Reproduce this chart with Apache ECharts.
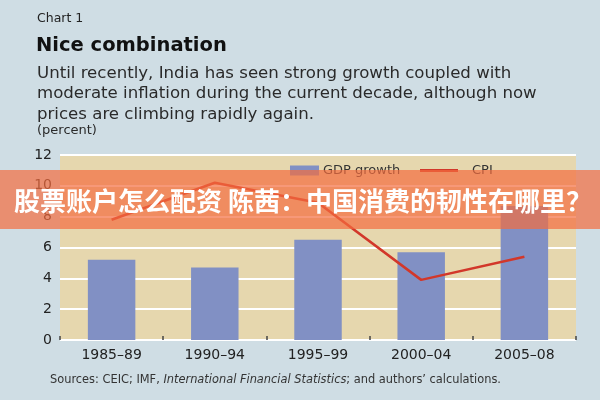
<!DOCTYPE html>
<html>
<head>
<meta charset="utf-8">
<script src="https://cdn.jsdelivr.net/npm/echarts@6/dist/echarts.min.js"></script>
<style>
html,body{margin:0;padding:0;background:#cfdde4;}
#c{width:600px;height:400px;}
</style>
</head>
<body>
<div id="c"></div>
<script>
const categories = ['1985–89', '1990–94', '1995–99', '2000–04', '2005–08'];
const gdpGrowth = [5.2, 4.7, 6.5, 5.7, 8.7];
const cpi = [7.8, 10.2, 8.9, 3.9, 5.4];
const yTicks = { min: 0, max: 12, interval: 2 };

const chart = echarts.init(document.getElementById('c'));
const F = '"DejaVu Sans", "Liberation Sans", sans-serif';
chart.setOption({
  backgroundColor: '#cfdde4',
  animation: false,
  grid: { left: 60, right: 24, top: 155, bottom: 60, show: true, backgroundColor: '#e6d7ae', borderWidth: 0 },
  legend: [
    { data: ['GDP growth'], left: 290, top: 164, padding: 0, itemWidth: 29, itemHeight: 10, itemGap: 5,
      textStyle: { color: '#333', fontSize: 13, fontFamily: F, padding: [0, 0, 0, -1] }, icon: 'rect' },
    { data: ['CPI'], left: 420, top: 164, padding: 0, itemWidth: 38, itemHeight: 3, icon: 'rect',
      textStyle: { color: '#333', fontSize: 13, fontFamily: F, padding: [0, 0, 0, 9] } }
  ],
  xAxis: {
    type: 'category', data: categories,
    axisLine: { show: false },
    axisTick: { show: true, inside: true, length: 4, lineStyle: { color: '#444', width: 1.5 } },
    axisLabel: { color: '#222', fontSize: 14, fontFamily: F, margin: 8 }
  },
  yAxis: {
    type: 'value', min: yTicks.min, max: yTicks.max, interval: yTicks.interval,
    axisLine: { show: false }, axisTick: { show: false },
    axisLabel: { color: '#222', fontSize: 14, fontFamily: F, margin: 8 },
    splitLine: { lineStyle: { color: '#ffffff', width: 2 } }
  },
  series: [
    { name: 'GDP growth', type: 'bar', data: gdpGrowth, barWidth: '46%',
      itemStyle: { color: '#8190c4' } },
    { name: 'CPI', type: 'line', data: cpi, symbol: 'none',
      lineStyle: { color: '#d2372a', width: 2.5 }, itemStyle: { color: '#d2372a' } }
  ],
  graphic: [
    { type: 'text', left: 37, top: 12, style: { text: 'Chart 1', fill: '#222', font: '12.5px ' + F } },
    { type: 'text', left: 36, top: 36, style: { text: 'Nice combination', fill: '#111', font: 'bold 19.5px ' + F } },
    { type: 'text', left: 37, top: 63, style: {
      text: 'Until recently, India has seen strong growth coupled with\nmoderate inflation during the current decade, although now\nprices are climbing rapidly again.',
      fill: '#2a2a2a', font: '16.6px ' + F, lineHeight: 20.5 } },
    { type: 'text', left: 37, top: 124, style: { text: '(percent)', fill: '#2a2a2a', font: '13px ' + F } },
    { type: 'text', left: 50, top: 375, style: {
      rich: { n: { fill: '#333', font: '11.4px ' + F }, i: { fill: '#333', font: 'italic 11.4px ' + F } },
      text: '{n|Sources: CEIC; IMF, }{i|International Financial Statistics}{n|; and authors\u2019 calculations.}' } },
    { type: 'rect', z: 100, shape: { x: 0, y: 170, width: 600, height: 59 },
      style: { fill: 'rgba(243,108,62,0.70)' } },
    { type: 'text', z: 101, x: 303, y: 201, style: {
      text: '股票账户怎么配资 陈茜：中国消费的韧性在哪里？', fill: '#ffffff',
      font: 'bold 26px "Noto Sans CJK SC", sans-serif', align: 'center', verticalAlign: 'middle' } }
  ]
});
</script>
</body>
</html>
